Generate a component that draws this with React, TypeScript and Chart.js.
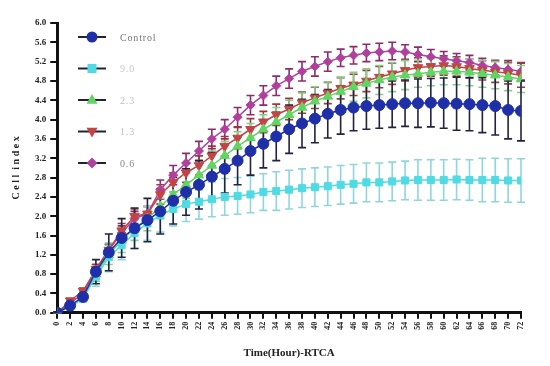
import { useEffect, useRef } from 'react';
import { Chart, registerables } from 'chart.js';

Chart.register(...registerables);

const hours = [0, 2, 4, 6, 8, 10, 12, 14, 16, 18, 20, 22, 24, 26, 28, 30, 32, 34, 36, 38, 40, 42, 44, 46, 48, 50, 52, 54, 56, 58, 60, 62, 64, 66, 68, 70, 72];

const yTicks = [0, 0.4, 0.8, 1.2, 1.6, 2.0, 2.4, 2.8, 3.2, 3.6, 4.0, 4.4, 4.8, 5.2, 5.6, 6.0];

const seriesNames = ['Control', '9.0', '2.3', '1.3', '0.6'];

const controlValues = [0.0, 0.15, 0.33, 0.85, 1.25, 1.55, 1.75, 1.92, 2.1, 2.32, 2.5, 2.65, 2.82, 2.98, 3.15, 3.35, 3.5, 3.65, 3.8, 3.92, 4.02, 4.12, 4.2, 4.25, 4.28, 4.3, 4.32, 4.34, 4.34, 4.35, 4.34, 4.33, 4.32, 4.3, 4.28, 4.2, 4.18];
const controlErrors = [0.02, 0.05, 0.08, 0.25, 0.38, 0.4, 0.42, 0.45, 0.47, 0.48, 0.48, 0.5, 0.5, 0.5, 0.5, 0.5, 0.5, 0.5, 0.5, 0.5, 0.5, 0.5, 0.5, 0.48, 0.48, 0.48, 0.48, 0.48, 0.5, 0.5, 0.52, 0.55, 0.55, 0.57, 0.6, 0.6, 0.62];

const highValues = [0.0, 0.12, 0.3, 0.75, 1.15, 1.4, 1.65, 1.85, 2.02, 2.15, 2.25, 2.3, 2.35, 2.4, 2.42, 2.45, 2.5, 2.52, 2.55, 2.58, 2.6, 2.62, 2.65, 2.67, 2.7, 2.7, 2.72, 2.74, 2.75, 2.75, 2.75, 2.76, 2.75, 2.75, 2.75, 2.74, 2.74];
const highErrors = [0.02, 0.05, 0.08, 0.2, 0.3, 0.3, 0.32, 0.35, 0.35, 0.35, 0.36, 0.36, 0.36, 0.38, 0.38, 0.38, 0.38, 0.4, 0.4, 0.4, 0.4, 0.4, 0.4, 0.4, 0.4, 0.4, 0.4, 0.4, 0.42, 0.42, 0.42, 0.42, 0.42, 0.45, 0.45, 0.45, 0.45];

const midValues = [0.0, 0.15, 0.3, 0.8, 1.2, 1.5, 1.75, 1.95, 2.2, 2.45, 2.65, 2.85, 3.05, 3.25, 3.45, 3.62, 3.8, 3.95, 4.1, 4.25, 4.38, 4.48, 4.58, 4.68, 4.75, 4.82, 4.88, 4.92, 4.95, 4.98, 5.0, 5.0, 4.98, 4.95, 4.92, 4.88, 4.84];
const midErrors = [0.02, 0.05, 0.08, 0.15, 0.2, 0.25, 0.25, 0.25, 0.25, 0.28, 0.28, 0.3, 0.3, 0.3, 0.3, 0.3, 0.3, 0.3, 0.3, 0.3, 0.3, 0.3, 0.3, 0.3, 0.3, 0.3, 0.3, 0.3, 0.28, 0.28, 0.28, 0.28, 0.28, 0.28, 0.28, 0.28, 0.28];

const lowValues = [0.0, 0.25, 0.45, 0.9, 1.3, 1.7, 2.0, 2.05, 2.45, 2.7, 2.9, 3.05, 3.25, 3.45, 3.62, 3.8, 3.95, 4.1, 4.22, 4.35, 4.45, 4.55, 4.65, 4.72, 4.8, 4.88, 4.95, 5.02, 5.08, 5.1, 5.12, 5.1, 5.06, 5.02, 4.99, 4.96, 4.92];
const lowErrors = [0.02, 0.05, 0.06, 0.1, 0.12, 0.15, 0.15, 0.15, 0.2, 0.2, 0.2, 0.2, 0.2, 0.2, 0.22, 0.22, 0.22, 0.22, 0.22, 0.22, 0.22, 0.22, 0.22, 0.22, 0.22, 0.22, 0.22, 0.22, 0.2, 0.2, 0.2, 0.2, 0.2, 0.2, 0.22, 0.22, 0.25];

const lowestValues = [0.0, 0.2, 0.4, 0.9, 1.3, 1.65, 1.95, 2.05, 2.55, 2.85, 3.1, 3.35, 3.6, 3.8, 4.05, 4.3, 4.5, 4.7, 4.85, 5.0, 5.1, 5.2, 5.28, 5.33, 5.38, 5.4, 5.42, 5.4, 5.35, 5.3, 5.26, 5.22, 5.18, 5.12, 5.08, 5.04, 5.0];
const lowestErrors = [0.02, 0.04, 0.06, 0.1, 0.12, 0.15, 0.15, 0.15, 0.2, 0.2, 0.2, 0.2, 0.2, 0.2, 0.2, 0.2, 0.2, 0.2, 0.2, 0.2, 0.2, 0.2, 0.18, 0.18, 0.18, 0.18, 0.18, 0.15, 0.15, 0.15, 0.15, 0.15, 0.15, 0.15, 0.15, 0.18, 0.18];

const seriesValues = [controlValues, highValues, midValues, lowValues, lowestValues];
const seriesErrors = [controlErrors, highErrors, midErrors, lowErrors, lowestErrors];
const seriesColors = ['#1f2fa8', '#4fdbe3', '#62d462', '#c24444', '#b0409c'];
const seriesErrColors = ['#23233f', '#8fd6dc', '#8acb8a', '#9a3a3a', '#8c2c6c'];
const seriesPoints = ['circle', 'rect', 'triangle', 'triangle', 'rectRot'];
const seriesRotation = [0, 0, 0, 180, 0];
const seriesRadius = [5.5, 5, 5.5, 5.5, 4.5];
const legendTextColors = ['#777777', '#c8c8c8', '#c0c0c0', '#c0c0c0', '#888888'];

function drawMarker(ctx: CanvasRenderingContext2D, style: string, rot: number, r: number, x: number, y: number) {
  ctx.beginPath();
  if (style === 'circle') {
    ctx.arc(x, y, r, 0, Math.PI * 2);
  } else if (style === 'rect') {
    const s = r * 0.9;
    ctx.rect(x - s, y - s, 2 * s, 2 * s);
  } else if (style === 'rectRot') {
    ctx.moveTo(x, y - r * 1.2);
    ctx.lineTo(x + r * 1.2, y);
    ctx.lineTo(x, y + r * 1.2);
    ctx.lineTo(x - r * 1.2, y);
    ctx.closePath();
  } else {
    const dir = rot === 180 ? -1 : 1;
    ctx.moveTo(x, y - dir * r * 1.1);
    ctx.lineTo(x + r, y + dir * r * 0.7);
    ctx.lineTo(x - r, y + dir * r * 0.7);
    ctx.closePath();
  }
  ctx.fill();
}

const errorBarPlugin = {
  id: 'errorBars',
  beforeDatasetsDraw(chart: any) {
    const { ctx, scales } = chart;
    const xs = scales.x;
    const ys = scales.y;
    ctx.save();
    for (let d = seriesValues.length - 1; d >= 0; d--) {
      ctx.strokeStyle = seriesErrColors[d];
      ctx.lineWidth = 1.6;
      const vals = seriesValues[d];
      const errs = seriesErrors[d];
      for (let i = 0; i < hours.length; i++) {
        const px = xs.getPixelForValue(hours[i]);
        const top = ys.getPixelForValue(vals[i] + errs[i]);
        const bot = ys.getPixelForValue(Math.max(0, vals[i] - errs[i]));
        ctx.beginPath();
        ctx.moveTo(px, top);
        ctx.lineTo(px, bot);
        ctx.moveTo(px - 4, top);
        ctx.lineTo(px + 4, top);
        ctx.moveTo(px - 4, bot);
        ctx.lineTo(px + 4, bot);
        ctx.stroke();
      }
    }
    ctx.restore();
  },
};

const legendPlugin = {
  id: 'innerLegend',
  afterDraw(chart: any) {
    const { ctx } = chart;
    ctx.save();
    const x0 = 78;
    const x1 = 106;
    const xm = (x0 + x1) / 2;
    for (let i = 0; i < seriesNames.length; i++) {
      const y = 37 + i * 31.5;
      ctx.strokeStyle = '#222233';
      ctx.lineWidth = 2;
      ctx.beginPath();
      ctx.moveTo(x0, y);
      ctx.lineTo(x1, y);
      ctx.stroke();
      ctx.fillStyle = seriesColors[i];
      drawMarker(ctx, seriesPoints[i], seriesRotation[i], seriesRadius[i], xm, y);
      ctx.fillStyle = legendTextColors[i];
      ctx.font = '10px "Liberation Serif"';
      ctx.textBaseline = 'middle';
      ctx.textAlign = 'left';
      const text = seriesNames[i].split('').join(String.fromCharCode(8202));
      ctx.fillText(text, 120, y + 1);
    }
    ctx.restore();
  },
};

export default function App() {
  const canvasRef = useRef<HTMLCanvasElement | null>(null);

  useEffect(() => {
    document.body.style.margin = '0';
    const canvas = canvasRef.current;
    if (!canvas) return;
    const datasets = seriesNames.map((name, d) => ({
      label: name,
      data: hours.map((h, i) => ({ x: h, y: seriesValues[d][i] })),
      borderColor: seriesColors[d],
      backgroundColor: seriesColors[d],
      pointBackgroundColor: seriesColors[d],
      pointBorderColor: seriesColors[d],
      pointStyle: seriesPoints[d] as any,
      rotation: seriesRotation[d],
      pointRadius: seriesRadius[d],
      pointBorderWidth: 1,
      borderWidth: 1.5,
      tension: 0,
    }));
    const chart = new Chart(canvas, {
      type: 'line',
      data: { datasets },
      plugins: [errorBarPlugin, legendPlugin],
      options: {
        animation: false,
        responsive: false,
        maintainAspectRatio: false,
        layout: { padding: { left: 10, right: 29, top: 23, bottom: 6 } },
        plugins: {
          legend: { display: false },
          tooltip: { enabled: false },
        },
        scales: {
          x: {
            type: 'linear',
            min: 0,
            max: 72,
            afterBuildTicks(scale: any) {
              scale.ticks = hours.map((h) => ({ value: h }));
            },
            ticks: {
              autoSkip: false,
              minRotation: 90,
              maxRotation: 90,
              color: '#222',
              padding: 3,
              font: { family: '"Liberation Serif"', size: 8, weight: 'bold' },
            },
            grid: { display: true, drawOnChartArea: false, color: '#111', lineWidth: 2, tickLength: 6 },
            border: { display: true, color: '#111', width: 3 },
            title: {
              display: true,
              text: 'Time(Hour)-RTCA',
              color: '#222',
              padding: { top: 14, bottom: 0 },
              font: { family: '"Liberation Serif"', size: 11, weight: 'bold' },
            },
          },
          y: {
            type: 'linear',
            min: 0,
            max: 6,
            afterBuildTicks(scale: any) {
              scale.ticks = yTicks.map((v) => ({ value: v }));
            },
            ticks: {
              autoSkip: false,
              color: '#222',
              padding: 4,
              callback: (v: any) => Number(v).toFixed(1),
              font: { family: '"Liberation Serif"', size: 9, weight: 'bold' },
            },
            grid: { display: true, drawOnChartArea: false, color: '#111', lineWidth: 2, tickLength: 7 },
            border: { display: true, color: '#111', width: 3 },
            title: {
              display: true,
              text: 'C e l l  i n d e x',
              color: '#222',
              padding: { top: 0, bottom: 9 },
              font: { family: '"Liberation Serif"', size: 10, weight: 'bold' },
            },
          },
        },
      },
    });
    return () => chart.destroy();
  }, []);

  return <canvas ref={canvasRef} width={550} height={366} style={{ display: 'block' }} />;
}
